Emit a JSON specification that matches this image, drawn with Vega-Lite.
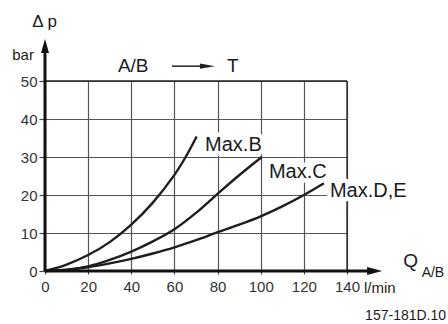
{
  "$schema": "https://vega.github.io/schema/vega-lite/v6.json",
  "width": 302,
  "height": 190,
  "autosize": "none",
  "padding": {"left": 45, "top": 81, "right": 101, "bottom": 53},
  "background": "white",
  "config": {"view": {"stroke": null}, "font": "Liberation Sans"},
  "data": {"values": [{}]},
  "resolve": {"axis": {"x": "independent", "y": "independent"}},
  "datasets": {
    "curves": [
      {"series": "B", "q": 0, "dp": 0},
      {"series": "B", "q": 10, "dp": 1.7},
      {"series": "B", "q": 20, "dp": 4.2},
      {"series": "B", "q": 30, "dp": 7.6},
      {"series": "B", "q": 40, "dp": 12.2},
      {"series": "B", "q": 50, "dp": 18.0},
      {"series": "B", "q": 60, "dp": 25.3},
      {"series": "B", "q": 65, "dp": 29.8},
      {"series": "B", "q": 70.3, "dp": 35.4},
      {"series": "C", "q": 0, "dp": 0},
      {"series": "C", "q": 10, "dp": 0.35},
      {"series": "C", "q": 20, "dp": 1.2},
      {"series": "C", "q": 30, "dp": 2.9},
      {"series": "C", "q": 40, "dp": 5.1},
      {"series": "C", "q": 50, "dp": 7.8},
      {"series": "C", "q": 60, "dp": 11.0},
      {"series": "C", "q": 70, "dp": 15.3},
      {"series": "C", "q": 80, "dp": 20.3},
      {"series": "C", "q": 90, "dp": 25.2},
      {"series": "C", "q": 100.5, "dp": 30.0},
      {"series": "DE", "q": 0, "dp": 0},
      {"series": "DE", "q": 10, "dp": 0.3},
      {"series": "DE", "q": 20, "dp": 1.0},
      {"series": "DE", "q": 30, "dp": 2.0},
      {"series": "DE", "q": 40, "dp": 3.2},
      {"series": "DE", "q": 50, "dp": 4.6},
      {"series": "DE", "q": 60, "dp": 6.2},
      {"series": "DE", "q": 70, "dp": 8.1},
      {"series": "DE", "q": 80, "dp": 10.2},
      {"series": "DE", "q": 90, "dp": 12.2},
      {"series": "DE", "q": 100, "dp": 14.4},
      {"series": "DE", "q": 110, "dp": 17.0},
      {"series": "DE", "q": 120, "dp": 20.0},
      {"series": "DE", "q": 129.3, "dp": 23.1}
    ],
    "labels": [
      {"t": "Max.B", "q": 74.2, "dp": 31.6},
      {"t": "Max.C", "q": 103.8, "dp": 24.4},
      {"t": "Max.D,E", "q": 132.1, "dp": 19.4}
    ]
  },
  "layer": [
    {
      "data": {"name": "curves"},
      "mark": {"type": "line", "interpolate": "catmull-rom", "color": "#1e1e1e", "strokeWidth": 2.4},
      "encoding": {
        "x": {
          "field": "q", "type": "quantitative", "title": null,
          "scale": {"domain": [0, 140], "nice": false, "zero": false},
          "axis": {
            "values": [0, 20, 40, 60, 80, 100, 120, 140], "title": null, "domain": false,
            "grid": true, "gridColor": "#555", "gridWidth": 1.2, "gridOpacity": 1,
            "tickSize": 3, "tickColor": "#444", "tickWidth": 1.2, "labelPadding": 5,
            "labelFontSize": 15, "labelColor": "#333", "labelFont": "Liberation Sans",
            "labelFlush": false, "labelOverlap": false
          }
        },
        "y": {
          "field": "dp", "type": "quantitative", "title": null,
          "scale": {"domain": [0, 50], "nice": false, "zero": false},
          "axis": {
            "values": [0, 10, 20, 30, 40, 50], "title": null, "domain": false,
            "grid": true, "gridColor": "#555", "gridWidth": 1.2, "gridOpacity": 1,
            "tickSize": 6, "tickColor": "#444", "tickWidth": 1.2, "labelPadding": 2,
            "labelFontSize": 15, "labelColor": "#333", "labelFont": "Liberation Sans",
            "labelFlush": false, "labelOverlap": false
          }
        },
        "detail": {"field": "series", "type": "nominal"}
      }
    },
    {
      "mark": {"type": "rule", "color": "#222", "strokeWidth": 1.3},
      "encoding": {
        "x": {"datum": 0, "type": "quantitative", "axis": null},
        "x2": {"datum": 140},
        "y": {"datum": 50, "type": "quantitative", "axis": null}
      }
    },
    {
      "mark": {"type": "rule", "color": "#222", "strokeWidth": 1.3},
      "encoding": {
        "x": {"datum": 140, "type": "quantitative", "axis": null},
        "y": {"datum": 0, "type": "quantitative", "axis": null},
        "y2": {"datum": 50}
      }
    },
    {
      "mark": {"type": "rule", "color": "#111", "strokeWidth": 3},
      "encoding": {
        "x": {"datum": 0, "type": "quantitative", "axis": null},
        "y": {"datum": 0, "type": "quantitative", "axis": null},
        "y2": {"datum": 58}
      }
    },
    {
      "mark": {"type": "rule", "color": "#111", "strokeWidth": 3},
      "encoding": {
        "x": {"datum": 0, "type": "quantitative", "axis": null},
        "x2": {"datum": 150},
        "y": {"datum": 0, "type": "quantitative", "axis": null}
      }
    },
    {
      "mark": {"type": "rule", "color": "#222", "strokeWidth": 1.5},
      "encoding": {
        "x": {"datum": 58.9, "type": "quantitative", "axis": null},
        "x2": {"datum": 73},
        "y": {"datum": 53.9, "type": "quantitative", "axis": null}
      }
    },
    {
      "mark": {"type": "point", "shape": "M 0 -1 L 0.57 1 L -0.57 1 Z", "size": 196, "filled": true, "color": "#111", "opacity": 1, "strokeWidth": 0},
      "encoding": {
        "x": {"datum": 0, "type": "quantitative", "axis": null},
        "y": {"datum": 59.2, "type": "quantitative", "axis": null}
      }
    },
    {
      "mark": {"type": "point", "shape": "M 1 0 L -1 0.53 L -1 -0.53 Z", "size": 225, "filled": true, "color": "#111", "opacity": 1, "strokeWidth": 0},
      "encoding": {
        "x": {"datum": 152.8, "type": "quantitative", "axis": null},
        "y": {"datum": 0, "type": "quantitative", "axis": null}
      }
    },
    {
      "mark": {"type": "point", "shape": "M 1 0 L -1 0.35 L -1 -0.35 Z", "size": 225, "filled": true, "color": "#222", "opacity": 1, "strokeWidth": 0},
      "encoding": {
        "x": {"datum": 75.3, "type": "quantitative", "axis": null},
        "y": {"datum": 53.9, "type": "quantitative", "axis": null}
      }
    },
    {
      "data": {"name": "labels"},
      "mark": {"type": "text", "align": "left", "baseline": "alphabetic", "fontSize": 20, "font": "Liberation Sans", "fill": "white", "stroke": "white", "strokeWidth": 9, "strokeJoin": "round"},
      "encoding": {
        "x": {"field": "q", "type": "quantitative", "axis": null},
        "y": {"field": "dp", "type": "quantitative", "axis": null},
        "text": {"field": "t"}
      }
    },
    {
      "data": {"name": "labels"},
      "mark": {"type": "text", "align": "left", "baseline": "alphabetic", "fontSize": 20, "font": "Liberation Sans", "color": "#1a1a1a"},
      "encoding": {
        "x": {"field": "q", "type": "quantitative", "axis": null},
        "y": {"field": "dp", "type": "quantitative", "axis": null},
        "text": {"field": "t"}
      }
    },
    {
      "mark": {"type": "text", "align": "left", "baseline": "alphabetic", "fontSize": 17, "font": "Liberation Sans", "color": "#1a1a1a", "text": "Δ p"},
      "encoding": {
        "x": {"datum": -5.9, "type": "quantitative", "axis": null},
        "y": {"datum": 64.3, "type": "quantitative", "axis": null}
      }
    },
    {
      "mark": {"type": "text", "align": "left", "baseline": "alphabetic", "fontSize": 15, "font": "Liberation Sans", "color": "#1a1a1a", "text": "bar"},
      "encoding": {
        "x": {"datum": -15.2, "type": "quantitative", "axis": null},
        "y": {"datum": 55.5, "type": "quantitative", "axis": null}
      }
    },
    {
      "mark": {"type": "text", "align": "left", "baseline": "alphabetic", "fontSize": 19, "font": "Liberation Sans", "color": "#1a1a1a", "text": "A/B"},
      "encoding": {
        "x": {"datum": 33.8, "type": "quantitative", "axis": null},
        "y": {"datum": 52.4, "type": "quantitative", "axis": null}
      }
    },
    {
      "mark": {"type": "text", "align": "left", "baseline": "alphabetic", "fontSize": 19, "font": "Liberation Sans", "color": "#1a1a1a", "text": "T"},
      "encoding": {
        "x": {"datum": 84.4, "type": "quantitative", "axis": null},
        "y": {"datum": 52.4, "type": "quantitative", "axis": null}
      }
    },
    {
      "mark": {"type": "text", "align": "left", "baseline": "alphabetic", "fontSize": 19, "font": "Liberation Sans", "color": "#1a1a1a", "text": "Q"},
      "encoding": {
        "x": {"datum": 166.1, "type": "quantitative", "axis": null},
        "y": {"datum": 1.05, "type": "quantitative", "axis": null}
      }
    },
    {
      "mark": {"type": "text", "align": "left", "baseline": "alphabetic", "fontSize": 14, "font": "Liberation Sans", "color": "#1a1a1a", "text": "A/B"},
      "encoding": {
        "x": {"datum": 174.6, "type": "quantitative", "axis": null},
        "y": {"datum": -1.6, "type": "quantitative", "axis": null}
      }
    },
    {
      "mark": {"type": "text", "align": "left", "baseline": "alphabetic", "fontSize": 15, "font": "Liberation Sans", "color": "#1a1a1a", "text": "l/min"},
      "encoding": {
        "x": {"datum": 147.9, "type": "quantitative", "axis": null},
        "y": {"datum": -5.8, "type": "quantitative", "axis": null}
      }
    },
    {
      "mark": {"type": "text", "align": "left", "baseline": "alphabetic", "fontSize": 14, "font": "Liberation Sans", "color": "#1a1a1a", "text": "157-181D.10"},
      "encoding": {
        "x": {"datum": 148.4, "type": "quantitative", "axis": null},
        "y": {"datum": -12.9, "type": "quantitative", "axis": null}
      }
    }
  ]
}
